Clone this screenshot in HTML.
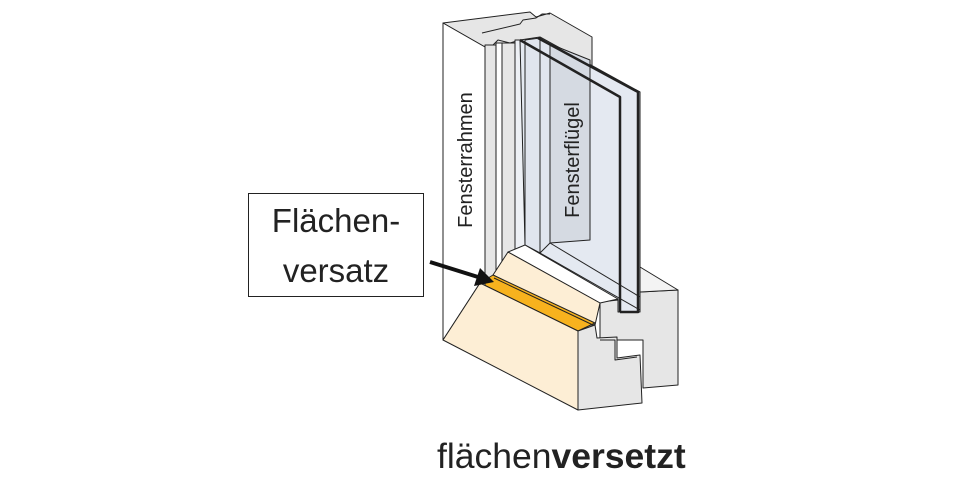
<!DOCTYPE html>
<html><head><meta charset="utf-8"><style>
html,body{margin:0;padding:0;background:#fff;width:960px;height:480px;overflow:hidden}
svg{display:block}
text{font-family:"Liberation Sans","DejaVu Sans",sans-serif;fill:#222}
</style></head><body>
<svg width="960" height="480" viewBox="0 0 960 480" xmlns="http://www.w3.org/2000/svg">
<g stroke="#222" stroke-width="1" stroke-linejoin="round">
<!-- frame top face -->
<polygon points="443,23 530,12 536,17 550,13 592,37 592,330 485,330 485,47" fill="#e6e6e6"/>
<polyline points="482,33 520,24 523,20 536,18 542,14 550,14" fill="none"/>
<polyline points="485,47 493,45 498,40 510,43 520,40" fill="none"/>
<!-- inner strips -->
<rect x="485" y="45" width="11" height="245" fill="#e6e6e6"/>
<rect x="496" y="43" width="6" height="247" fill="#fff"/>
<rect x="502" y="43" width="13" height="247" fill="#e6e6e6"/>
<rect x="515" y="40" width="10" height="250" fill="#edf0f5"/>
<!-- sash/glass panel -->
<polygon points="520,40 540,37 640,92 640,312 618,312 618,300 525,245" fill="#e4e9f1"/>
<polygon points="525,40 540,38 550,44 550,243 540,253 525,245" fill="#e0e5ee"/>
<polygon points="550,44 590,60 590,240 550,243" fill="#d5dae2"/>
<line x1="540" y1="40" x2="540" y2="253"/>
<line x1="550" y1="44" x2="550" y2="243"/>
<line x1="550" y1="243" x2="640" y2="297"/>
<line x1="540" y1="253" x2="640" y2="310"/>
<!-- right block -->
<polygon points="600,302 618,300 618,312 640,312 640,292 678,290 678,385 643,388 643,340 600,340" fill="#e6e6e6"/>
<polygon points="640,267 678,290 640,292" fill="#f3f3f3"/>
<!-- white sill top -->
<polygon points="508,252 525,245 618,299 600,303" fill="#fff"/>
<!-- upper beige -->
<polygon points="493,275 508,252 600,303 595,325" fill="#fdeed5"/>
<!-- orange -->
<polygon points="480,283 493,275 595,323 578,331" fill="#f7b21e"/>
<line x1="494" y1="278" x2="593" y2="325"/>
<!-- frame front face -->
<polygon points="443,23 485,47 485,290 480,283 443,340" fill="#fff"/>
<!-- beige front -->
<polygon points="443,340 480,283 578,331 578,410" fill="#fdeed5"/>
<!-- gray end block -->
<polygon points="578,331 595,325 597,338 617,337 617,358 640,355 642,403 578,410" fill="#e6e6e6"/>
<polyline points="600,340 615,340 615,360 637,357" fill="none"/>
<!-- glass thick lines -->
<g stroke-width="2.5" fill="none">
<polyline points="520,40 620,97 620,312"/>
<polyline points="538,38 638,92 638,312 620,312"/>
</g>
</g>
<!-- vertical labels -->
<text transform="translate(472,160) rotate(-90)" text-anchor="middle" font-size="20">Fensterrahmen</text>
<text transform="translate(579,160) rotate(-90)" text-anchor="middle" font-size="20">Fensterflügel</text>
<!-- label box -->
<rect x="248.5" y="193.5" width="175" height="103" fill="#fff" stroke="#222"/>
<text x="336" y="232" text-anchor="middle" font-size="33">Flächen-</text>
<text x="336" y="282" text-anchor="middle" font-size="33">versatz</text>
<!-- arrow -->
<line x1="430" y1="262" x2="478" y2="277" stroke="#111" stroke-width="4"/>
<polygon points="494,282 474,286 480,268" fill="#111"/>
<!-- bottom caption -->
<text x="437" y="468" font-size="35.5">flächen<tspan font-weight="bold">versetzt</tspan></text>
</svg>
</body></html>
